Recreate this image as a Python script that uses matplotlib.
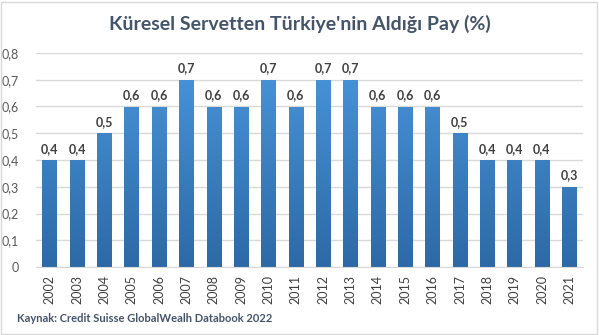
import matplotlib.pyplot as plt
import numpy as np
from matplotlib.colors import LinearSegmentedColormap
from matplotlib.patches import Rectangle
from matplotlib.ticker import FuncFormatter

plt.rcParams["font.family"] = ["Lato", "DejaVu Sans"]

years = [str(y) for y in range(2002, 2022)]
shares = [0.4, 0.4, 0.5, 0.6, 0.6, 0.7, 0.6, 0.6, 0.7, 0.6,
          0.7, 0.7, 0.6, 0.6, 0.6, 0.5, 0.4, 0.4, 0.4, 0.3]

title = "Küresel Servetten Türkiye'nin Aldığı Pay (%)"
source = "Kaynak: Credit Suisse GlobalWealh Databook 2022"

fig = plt.figure(figsize=(5.99, 3.35), dpi=100)
ax = fig.add_axes([36 / 599, 1 - 267 / 335, 547 / 599, 214 / 335])

x = np.arange(len(years))
bars = ax.bar(x, shares, width=0.53, color="none", zorder=2)

# vertical gradient fill, darker at the base
cmap = LinearSegmentedColormap.from_list("bar", ["#2d69a6", "#4a97dc"])
grad = np.linspace(0, 1, 256).reshape(-1, 1)
for b in bars:
    x0, w, h = b.get_x(), b.get_width(), b.get_height()
    im = ax.imshow(grad, extent=[x0, x0 + w, 0, 0.8], origin="lower",
                   cmap=cmap, aspect="auto", zorder=2)
    im.set_clip_path(b)
    ax.text(x0 + w / 2, h + 0.02, f"{h:.1f}".replace(".", ","),
            ha="center", va="bottom", fontsize=9, fontweight="bold",
            color="#404040")

ax.set_xlim(-0.5, len(years) - 0.5)
ax.set_ylim(0, 0.8)
ax.set_yticks(np.arange(0, 0.81, 0.1))
ax.yaxis.set_major_formatter(
    FuncFormatter(lambda v, _: "0" if v == 0 else f"{v:.1f}".replace(".", ",")))
ax.set_xticks(x)
ax.set_xticklabels(years, rotation=90, fontsize=9, color="#404040")
ax.tick_params(axis="y", labelsize=9, labelcolor="#595959", length=0, pad=12)
ax.tick_params(axis="x", length=0, pad=6)
ax.grid(axis="y", color="#d9d9d9", linewidth=1, zorder=0)
for side in ["top", "right", "left"]:
    ax.spines[side].set_visible(False)
ax.spines["bottom"].set_color("#d9d9d9")

fig.text(0.5, 1 - 24 / 335, title, ha="center", va="center",
         fontsize=14, fontweight="bold", color="#44546a")
fig.text(17 / 599, 1 - 318 / 335, source, ha="left", va="center",
         fontsize=8, fontweight="bold", color="#44546a")

fig.patches.append(Rectangle((1 / 599, 1 / 335), 596 / 599, 332 / 335,
                             transform=fig.transFigure, fill=False,
                             edgecolor="#d9d9d9", linewidth=1))

plt.savefig("out.png", dpi=100)
